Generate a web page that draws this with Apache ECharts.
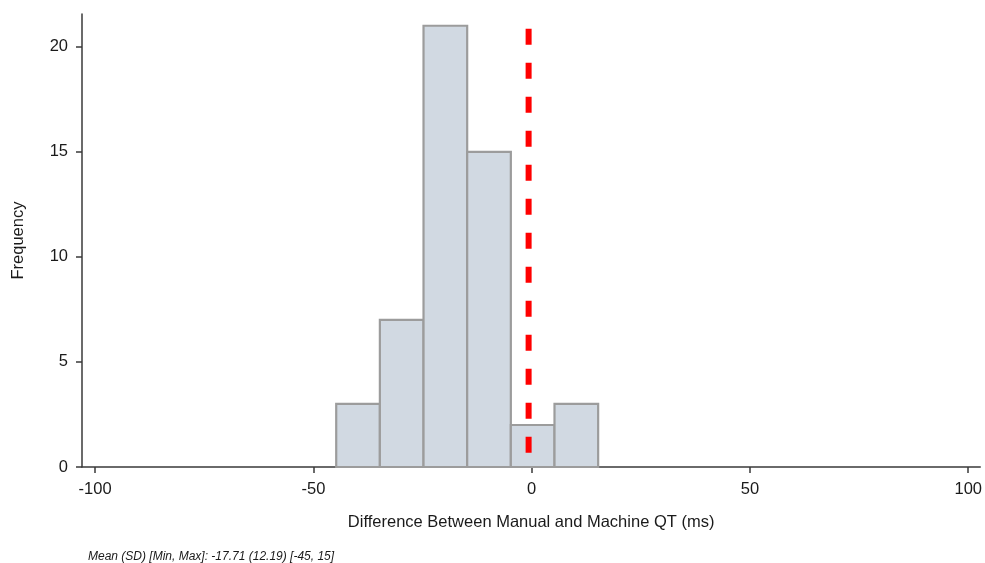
<!DOCTYPE html>
<html>
<head>
<meta charset="utf-8">
<script src="https://cdn.jsdelivr.net/npm/echarts@6/dist/echarts.min.js"></script>
<style>
html,body{margin:0;padding:0;background:#fff;}
#chart{width:985px;height:563px;}
</style>
</head>
<body>
<div id="chart"></div>
<script>
// Histogram bins (ms) and frequencies
const binStarts = [-45, -35, -25, -15, -5, 5];
const binEnds   = [-35, -25, -15, -5, 5, 15];
const counts    = [3, 7, 21, 15, 2, 3];
// Reference line position and extent
const refLineX = -0.7;
const refLineTop = 20.86;
// Tick labels
const xTicks = [-100, -50, 0, 50, 100];
const yTicks = [0, 5, 10, 15, 20];
const xTitle = 'Difference Between Manual and Machine QT (ms)';
const yTitle = 'Frequency';
const footnote = 'Mean (SD) [Min, Max]: -17.71 (12.19) [-45, 15]';

const binData = binStarts.map((s, i) => [s, binEnds[i], counts[i]]);

const chart = echarts.init(document.getElementById('chart'), null, {renderer: 'canvas'});
const textColor = '#1a1a1a';
const axisColor = '#3a3a3a';
const font = 'Liberation Sans';
chart.setOption({
  animation: false,
  backgroundColor: '#fff',
  grid: {left: 82, right: 3, top: 14, bottom: 96, containLabel: false},
  xAxis: {
    type: 'value',
    min: -103, max: 102.75,
    name: xTitle,
    nameLocation: 'middle',
    nameGap: 47,
    nameTextStyle: {fontFamily: font, fontSize: 16.5, color: textColor},
    axisLine: {show: true, onZero: false, lineStyle: {color: axisColor, width: 1.5}},
    axisTick: {show: true, length: 6, customValues: xTicks, lineStyle: {color: axisColor, width: 1.5}},
    axisLabel: {customValues: xTicks, margin: 14, fontFamily: font, fontSize: 16.5, color: textColor},
    splitLine: {show: false}
  },
  yAxis: {
    type: 'value',
    min: 0, max: 21.56,
    name: yTitle,
    nameLocation: 'middle',
    nameGap: 55,
    nameRotate: 90,
    nameTextStyle: {fontFamily: font, fontSize: 16.5, color: textColor},
    axisLine: {show: true, onZero: false, lineStyle: {color: axisColor, width: 1.5}},
    axisTick: {show: true, length: 6, customValues: yTicks, lineStyle: {color: axisColor, width: 1.5}},
    axisLabel: {customValues: yTicks, margin: 14, fontFamily: font, fontSize: 16.5, color: textColor},
    splitLine: {show: false}
  },
  series: [
    {
      type: 'custom',
      data: binData,
      renderItem: function (params, api) {
        const p0 = api.coord([api.value(0), api.value(2)]);
        const p1 = api.coord([api.value(1), 0]);
        return {
          type: 'rect',
          shape: {x: p0[0] + 1, y: p0[1], width: p1[0] - p0[0], height: p1[1] - p0[1]},
          style: {fill: '#d1d9e2', stroke: '#9c9c9c', lineWidth: 2.2}
        };
      },
      encode: {x: [0, 1], y: 2},
      z: 2
    },
    {
      type: 'line',
      data: [[refLineX, refLineTop], [refLineX, 0]],
      symbol: 'none',
      lineStyle: {color: '#ff0000', width: 6, type: [16, 18], cap: 'butt'},
      z: 5
    }
  ],
  graphic: [
    {
      type: 'text',
      left: 88, top: 551,
      style: {text: footnote, fontFamily: font, fontSize: 12, fontStyle: 'italic', fill: textColor}
    }
  ]
});
</script>
</body>
</html>
